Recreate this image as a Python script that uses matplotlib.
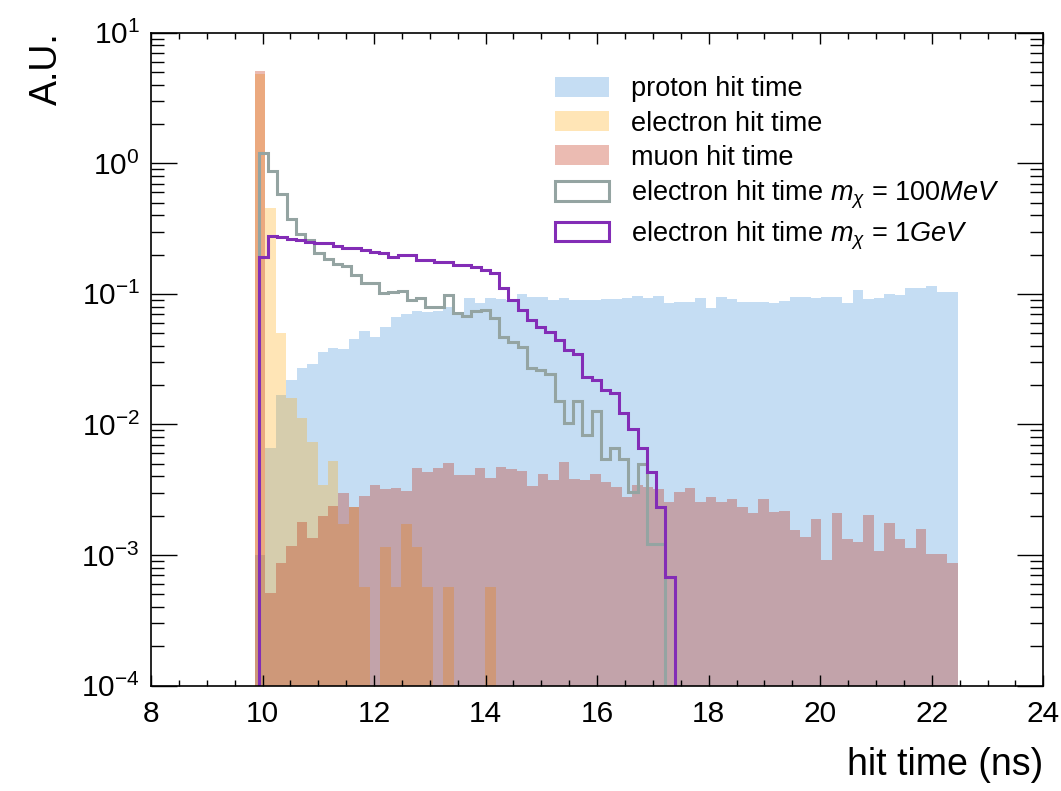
import numpy as np
import matplotlib
matplotlib.use("Agg")
import matplotlib.pyplot as plt
from matplotlib.ticker import MultipleLocator, LogLocator, NullFormatter

plt.rcParams["font.family"] = ["Liberation Sans", "DejaVu Sans"]
plt.rcParams["mathtext.fontset"] = "custom"
plt.rcParams["mathtext.rm"] = "Liberation Sans"
plt.rcParams["mathtext.it"] = "Liberation Sans:italic"
plt.rcParams["mathtext.bf"] = "Liberation Sans:bold"

# binning of the two groups of histograms (ns)
BKG_RANGE = (9.857, 22.463)
BKG_NBINS = 67
SIG_RANGE = (9.937, 17.39)
SIG_NBINS = 45

# background hit-time histograms (A.U.)
proton = [
    0.001, 0.0066, 0.0168, 0.0219, 0.0272, 0.0289, 0.0357, 0.0383, 0.0377, 0.0449,
    0.0520, 0.0468, 0.0561, 0.0669, 0.0701, 0.0740, 0.0730, 0.0740, 0.0798, 0.0690,
    0.0935, 0.0847, 0.0925, 0.0910, 0.0898, 0.1000, 0.0950, 0.0940, 0.0900, 0.0930,
    0.0898, 0.0898, 0.0898, 0.0914, 0.0914, 0.0935, 0.0964, 0.0938, 0.0969, 0.0857,
    0.0872, 0.0872, 0.0925, 0.0784, 0.0952, 0.0910, 0.0863, 0.0863, 0.0863, 0.0847,
    0.0882, 0.0952, 0.0952, 0.0935, 0.0952, 0.0952, 0.0847, 0.1071, 0.0910, 0.0925,
    0.0998, 0.0981, 0.1104, 0.1104, 0.1156, 0.1029, 0.1029,
]
electron = [
    4.8, 0.457, 0.0505, 0.0160, 0.01115, 0.00739, 0.00344, 0.00525, 0.00172, 0.00232,
    0.000573, 0.0, 0.001147, 0.000573, 0.00172, 0.001147, 0.000573, 0.0, 0.000573, 0.0,
    0.0, 0.0, 0.000573,
] + [0.0] * 44
muon = [
    5.12, 0.00051, 0.000875, 0.001174, 0.0018, 0.001345, 0.00199, 0.002377, 0.00297, 0.00232,
    0.002835, 0.00344, 0.00319, 0.00328, 0.00311, 0.00467, 0.00435, 0.00467, 0.00505, 0.0041,
    0.0041, 0.00467, 0.00391, 0.0047, 0.00454, 0.0044, 0.00338, 0.00418, 0.00376, 0.00513,
    0.00383, 0.00376, 0.00418, 0.00361, 0.00334, 0.00277, 0.00344, 0.00334, 0.00319, 0.00254,
    0.00306, 0.00324, 0.00254, 0.0028, 0.00254, 0.00268, 0.00235, 0.00209, 0.00268, 0.00215,
    0.00219, 0.00156, 0.00137, 0.00189, 0.000917, 0.00209, 0.00134, 0.00127, 0.00203, 0.001075,
    0.00175, 0.00134, 0.001127, 0.00159, 0.001014, 0.001014, 0.000875,
]

# signal electron hit-time histograms
sig_100mev = [
    1.206, 0.878, 0.582, 0.3746, 0.286, 0.2587, 0.2068, 0.184, 0.1694, 0.1635,
    0.1395, 0.1206, 0.1206, 0.1011, 0.1039, 0.1058, 0.0898, 0.0930, 0.0798, 0.0798,
    0.0981, 0.0710, 0.0677, 0.0740, 0.0753, 0.0657, 0.0470, 0.0430, 0.0390, 0.0269,
    0.0261, 0.0244, 0.0151, 0.0103, 0.0151, 0.00831, 0.01276, 0.00541, 0.00664, 0.00541,
    0.00306, 0.00496, 0.00121, 0.00121, 0.0,
]
sig_1gev = [
    0.1927, 0.2775, 0.2712, 0.2632, 0.2587, 0.2510, 0.2466, 0.2440, 0.2327, 0.2234,
    0.2234, 0.2168, 0.2104, 0.2068, 0.1927, 0.1986, 0.1986, 0.1818, 0.1818, 0.1746,
    0.1746, 0.1665, 0.1665, 0.1615, 0.1524, 0.1453, 0.1104, 0.0898, 0.0753, 0.0631,
    0.0561, 0.0514, 0.0444, 0.0372, 0.0347, 0.0230, 0.0219, 0.0184, 0.0175, 0.0123,
    0.00919, 0.00664, 0.00435, 0.00232, 0.000676,
]

bkg_edges = np.linspace(*BKG_RANGE, BKG_NBINS + 1)
sig_edges = np.linspace(*SIG_RANGE, SIG_NBINS + 1)
bkg_centers = 0.5 * (bkg_edges[1:] + bkg_edges[:-1])
sig_centers = 0.5 * (sig_edges[1:] + sig_edges[:-1])

fig = plt.figure(figsize=(10.61, 7.91), dpi=100)
ax = fig.add_axes([0.1423, 0.1331, 0.8410, 0.8256])
ax.set_yscale("log")

ax.hist(bkg_centers, bins=bkg_edges, weights=proton, histtype="stepfilled",
        color="#3f90da", alpha=0.3, label="proton hit time")
ax.hist(bkg_centers, bins=bkg_edges, weights=electron, histtype="stepfilled",
        color="#ffa90e", alpha=0.3, label="electron hit time")
ax.hist(bkg_centers, bins=bkg_edges, weights=muon, histtype="stepfilled",
        color="#bd1f01", alpha=0.3, label="muon hit time")
ax.hist(sig_centers, bins=sig_edges, weights=sig_100mev, histtype="step",
        color="#94a4a2", linewidth=2.2, label=r"electron hit time $m_{\chi}$ = 100$MeV$")
ax.hist(sig_centers, bins=sig_edges, weights=sig_1gev, histtype="step",
        color="#832db6", linewidth=2.2, label=r"electron hit time $m_{\chi}$ = 1$GeV$")

ax.set_xlim(8, 24)
ax.set_ylim(1e-4, 10)
ax.xaxis.set_major_locator(MultipleLocator(2))
ax.xaxis.set_minor_locator(MultipleLocator(0.5))
ax.yaxis.set_major_locator(LogLocator(base=10, numticks=10))
ax.yaxis.set_minor_locator(LogLocator(base=10, subs=np.arange(2, 10), numticks=20))
ax.yaxis.set_minor_formatter(NullFormatter())

ax.tick_params(which="both", direction="in", top=True, right=True, labelsize=21.5, width=1)
ax.tick_params(axis="x", which="major", length=8, pad=10)
ax.tick_params(axis="x", which="minor", length=4)
ax.tick_params(axis="y", which="major", length=19, pad=8)
ax.tick_params(axis="y", which="minor", length=9.5)
for s in ax.spines.values():
    s.set_linewidth(1.2)

ax.set_xlabel("hit time (ns)", loc="right", fontsize=27, labelpad=14)
ax.set_ylabel("A.U.", loc="top", fontsize=27, labelpad=12)

ax.legend(loc="upper left", bbox_to_anchor=(0.453, 0.933), frameon=False, fontsize=19.5,
          borderaxespad=0, borderpad=0, handlelength=2.0, handleheight=0.75,
          handletextpad=0.8, labelspacing=0.3)

fig.savefig("out.png", dpi=100, facecolor="white")
